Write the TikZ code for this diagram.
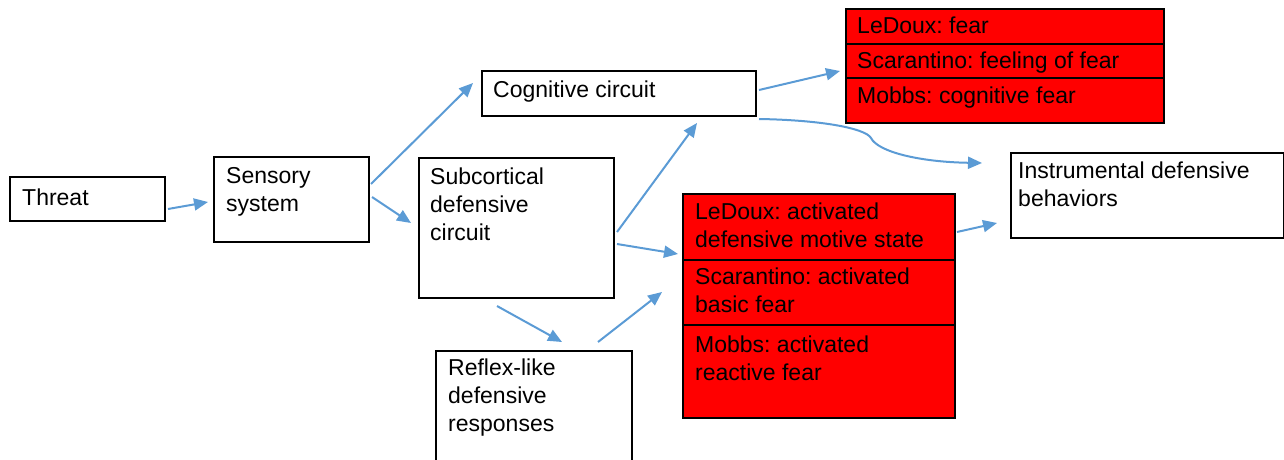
\documentclass[tikz,border=0pt]{standalone}
\usepackage{fontspec}
\setmainfont{Liberation Sans}
\usetikzlibrary{arrows.meta}
\definecolor{arrowblue}{HTML}{5B9BD5}
\definecolor{boxred}{HTML}{FF0000}
\frenchspacing
\begin{document}
\begin{tikzpicture}[x=1pt,y=-1pt,
  box/.style={draw=black, line width=1.8pt, fill=white, inner sep=0pt, anchor=north west},
  redbox/.style={box, fill=boxred},
  txt/.style={font=\fontsize{23}{28}\selectfont\frenchspacing, inner sep=0pt, anchor=base west, align=left},
  arr/.style={draw=arrowblue, line width=2pt, -{Triangle[length=14pt,width=12pt]}}]
\useasboundingbox (0,0) rectangle (1284,460);

% boxes
\node[box, minimum width=155, minimum height=44] (threat) at (9,176) {};
\node[box, minimum width=155, minimum height=85] (sensory) at (213,156) {};
\node[box, minimum width=195, minimum height=140] (subcort) at (418,157) {};
\node[box, minimum width=274, minimum height=45] (cog) at (481,70) {};
\node[box, minimum width=196, minimum height=130] (reflex) at (435,350) {};
\node[box, minimum width=273, minimum height=85] (instr) at (1010,152) {};
\node[redbox, minimum width=318, minimum height=35] (rt1) at (845,8) {};
\node[redbox, minimum width=318, minimum height=34] (rt2) at (845,43) {};
\node[redbox, minimum width=318, minimum height=45] (rt3) at (845,77) {};
\node[redbox, minimum width=272, minimum height=66] (rm1) at (682,193) {};
\node[redbox, minimum width=272, minimum height=65] (rm2) at (682,259) {};
\node[redbox, minimum width=272, minimum height=93] (rm3) at (682,324) {};

% texts (anchor = baseline of the last line)
\node[txt] (tthreat) at (22,205) {Threat};
\node[txt] (tsens) at (226,211) {Sensory\\system};
\node[txt] (tsub) at (430,240) {Subcortical\\defensive\\circuit};
\node[txt] (tcog) at (493,97) {Cognitive circuit};
\node[txt] (trefl) at (448,431) {Reflex-like\\defensive\\responses};
\node[txt] (tinstr) at (1018,206) {Instrumental defensive\\behaviors};
\node[txt] (trt1) at (857,34) {LeDoux: fear};
\node[txt] (trt2) at (857,69) {Scarantino: feeling of fear};
\node[txt] (trt3) at (857,103) {Mobbs: cognitive fear};
\node[txt] (trm1) at (695,247) {LeDoux: activated\\defensive motive state};
\node[txt] (trm2) at (695,312) {Scarantino: activated\\basic fear};
\node[txt] (trm3) at (695,380) {Mobbs: activated\\reactive fear};

% connector end points
\coordinate (a1s) at (168,209); \coordinate (a1e) at (208,202);
\coordinate (a2s) at (371,184); \coordinate (a2e) at (473,83);
\coordinate (a3s) at (372,197); \coordinate (a3e) at (411,223);
\coordinate (a4s) at (617,232); \coordinate (a4e) at (697,123);
\coordinate (a5s) at (617,244); \coordinate (a5e) at (678,254);
\coordinate (a6s) at (759,90);  \coordinate (a6e) at (840,71);
\coordinate (a7s) at (759,119); \coordinate (a7m) at (871,138); \coordinate (a7e) at (982,163);
\coordinate (a8s) at (957,232); \coordinate (a8e) at (997,223);
\coordinate (a9s) at (497,306); \coordinate (a9e) at (562,342);
\coordinate (a10s) at (598,342); \coordinate (a10e) at (662,292);

% connectors
\draw[arr] (a1s) -- (a1e);
\draw[arr] (a2s) -- (a2e);
\draw[arr] (a3s) -- (a3e);
\draw[arr] (a4s) -- (a4e);
\draw[arr] (a5s) -- (a5e);
\draw[arr] (a6s) -- (a6e);
\draw[arr] (a7s) .. controls (820,120) and (865,128) .. (a7m) .. controls (878,152) and (920,162) .. (a7e);
\draw[arr] (a8s) -- (a8e);
\draw[arr] (a9s) -- (a9e);
\draw[arr] (a10s) -- (a10e);
\end{tikzpicture}
\end{document}
